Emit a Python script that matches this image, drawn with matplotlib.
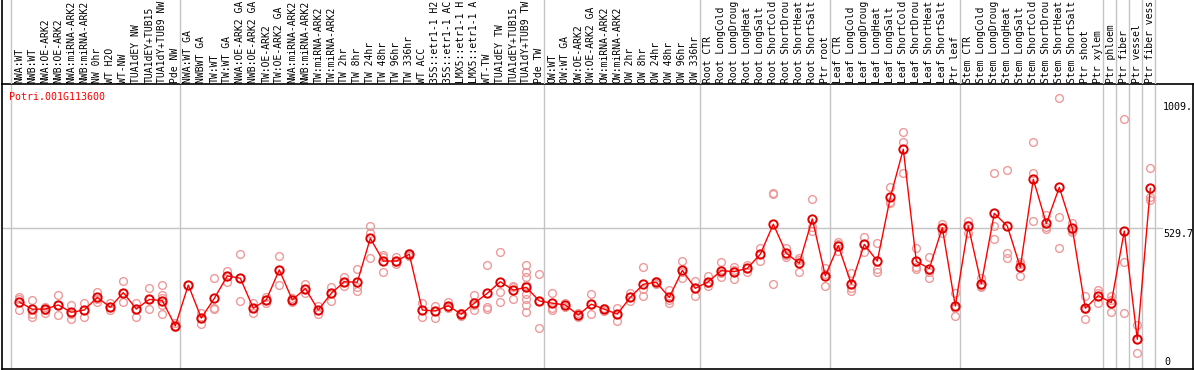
import matplotlib
matplotlib.use("Agg")
import matplotlib.pyplot as plt

title = "Potri.001G113600"

# labels as visible in the reference (long ones are cut at the top edge there)
categories = [
    "NWA:WT", "NWB:WT", "NWA:OE-ARK2", "NWB:OE-ARK2", "NWA:miRNA-ARK2", "NWB:miRNA-ARK2",
    "NW 0hr", "WT H2O", "WT-NW", "TUA1dEY NW", "TUA1dEY+TUB15", "TUA1dY+TUB9 NW", "Pde NW",
    "NWA:WT GA", "NWBWT GA", "TW:WT", "TW:WT GA", "NWA:OE-ARK2 GA", "NWB:OE-ARK2 GA",
    "TW:OE-ARK2", "TW:OE-ARK2 GA", "NWA:miRNA-ARK2", "NWB:miRNA-ARK2", "TW:miRNA-ARK2",
    "TW:miRNA-ARK2", "TW 2hr", "TW 8hr", "TW 24hr", "TW 48hr", "TW 96hr", "TW 336hr",
    "WT ACC", "35S::etr1-1 H2", "35S::etr1-1 AC", "LMX5::etr1-1 H", "LMX5::etr1-1 A",
    "WT-TW", "TUA1dEY TW", "TUA1dEY+TUB15", "TUA1dY+TUB9 TW", "Pde TW",
    "OW:WT", "OW:WT GA", "OW:OE-ARK2", "OW:OE-ARK2 GA", "OW:miRNA-ARK2", "OW:miRNA-ARK2",
    "OW 2hr", "OW 8hr", "OW 24hr", "OW 48hr", "OW 96hr", "OW 336hr",
    "Root CTR", "Root LongCold", "Root LongDroug", "Root LongHeat", "Root LongSalt",
    "Root ShortCold", "Root ShortDrou", "Root ShortHeat", "Root ShortSalt", "Ptr root",
    "Leaf CTR", "Leaf LongCold", "Leaf LongDroug", "Leaf LongHeat", "Leaf LongSalt",
    "Leaf ShortCold", "Leaf ShortDrou", "Leaf ShortHeat", "Leaf ShortSalt", "Ptr leaf",
    "Stem CTR", "Stem LongCold", "Stem LongDroug", "Stem LongHeat", "Stem LongSalt",
    "Stem ShortCold", "Stem ShortDrou", "Stem ShortHeat", "Stem ShortSalt",
    "Ptr shoot", "Ptr xylem", "Ptr phloem", "Ptr fiber", "Ptr vessel", "Ptr fiber vess",
]

means = [
    238, 209, 210, 226, 197, 206, 256, 217, 275, 210, 248, 243, 143,
    305, 174, 252, 341, 332, 213, 246, 365, 246, 291, 206, 272, 318, 316,
    490, 400, 400, 427, 206, 202, 223, 189, 233, 272, 318, 285, 296, 242,
    233, 226, 186, 229, 209, 190, 256, 308, 316, 256, 363, 292,
    318, 362, 358, 371, 427, 546, 431, 391, 567, 341,
    461, 309, 466, 400, 652, 843, 399, 370, 532, 222,
    539, 309, 589, 539, 375, 724, 549, 692, 530, 213,
    263, 235, 519, 90, 688,
]

replicates = [
    [256, 248, 206], [246, 190, 180], [219, 206, 196], [266, 226, 185], [226, 190, 169],
    [233, 206, 180], [279, 250, 239], [235, 217, 206], [322, 275, 239], [233, 209, 180],
    [292, 248, 209], [305, 266, 252, 226, 189], [153, 143, 137],
    [305], [196, 174, 149], [332, 213, 209], [361, 341, 318], [427, 332, 243],
    [233, 213, 196], [259, 246, 233], [420, 365, 305], [252, 246, 239],
    [309, 291, 275], [222, 206, 190], [296, 272, 243], [338, 318, 301],
    [367, 299, 283], [539, 512, 411], [424, 417, 358], [415, 398, 388],
    [431, 427, 421], [235, 206, 180], [222, 202, 174], [238, 219, 213],
    [196, 189, 182], [266, 226, 206], [384, 219, 209], [435, 279, 238],
    [301, 296, 248], [384, 358, 336, 305, 269, 248, 226, 197], [349, 242, 133],
    [272, 213, 206], [233, 226, 217], [193, 186, 180],
    [269, 229, 189], [213, 209, 203], [213, 190, 164], [272, 256, 243],
    [375, 288, 262], [322, 316, 309], [285, 246, 235], [399, 358, 332],
    [322, 292, 263], [341, 312, 303], [395, 354, 338], [378, 365, 330],
    [384, 371, 358], [450, 428, 400], [668, 664, 308], [450, 424, 417],
    [413, 404, 355], [645, 536, 519], [371, 347, 303],
    [477, 466, 440], [351, 292, 281], [497, 466, 437], [470, 369, 358],
    [692, 635, 631], [910, 870, 748], [450, 378, 369], [415, 358, 332],
    [545, 536, 512], [272, 213, 182],
    [559, 543, 510], [332, 301, 296], [748, 539, 486], [761, 433, 413],
    [395, 388, 341], [870, 748, 559], [582, 536, 526], [1045, 573, 450],
    [549, 523, 516], [262, 209, 169],
    [285, 272, 233], [262, 246, 197], [962, 395, 193], [147, 90, 34],
    [767, 655, 642],
]

group_ends = [-1, 12, 40, 52, 62, 72, 83, 84, 85, 86, 87]

ymid_label = "529.7"
ymid_value = 529.7
ytop_label = "1009."
ytop_value = 1009
ybottom_label = "0"

W, H = 1194, 370
fig = plt.figure(figsize=(W / 100, H / 100), dpi=100)
font = {"family": "DejaVu Sans Mono", "size": 7.2}
lab_font = {"family": "DejaVu Sans Mono", "size": 7.0}

ax_left_px, ax_right_px = 1.5, 1193.0
plot_top_px, plot_bot_px = 84.3, 369.3
ax = fig.add_axes([ax_left_px / W, 1 - plot_bot_px / H,
                   (ax_right_px - ax_left_px) / W, (plot_bot_px - plot_top_px) / H])
axl = fig.add_axes([ax_left_px / W, 1 - plot_top_px / H,
                    (ax_right_px - ax_left_px) / W, plot_top_px / H])

# x scale: index 0 at pixel 19.3, 13 px per category
x0_px, step_px = 19.3, 13.0
xl = -(x0_px - ax_left_px) / step_px
xr = xl + (ax_right_px - ax_left_px) / step_px
# y scale: value 0 at pixel 362, 0.2524 px per unit
y0_px, ppu = 362.0, 0.2524
yb = (y0_px - plot_bot_px) / ppu
yt = (y0_px - plot_top_px) / ppu

for a in (ax, axl):
    a.set_xlim(xl, xr)
    a.set_xticks([])
    a.set_yticks([])
    a.set_facecolor("none")
ax.set_ylim(yb, yt)
axl.set_ylim(0, 1)

for s in ax.spines.values():
    s.set_color("black")
    s.set_linewidth(1.2)
for k, s in axl.spines.items():
    s.set_visible(k == "left")
    s.set_color("black")
    s.set_linewidth(1.2)

grid_c = "#c4c4c4"
for g in group_ends:
    ax.axvline(g + 0.36, color=grid_c, lw=1.0, zorder=0)
    axl.axvline(g + 0.36, color=grid_c, lw=1.0, zorder=0)

# horizontal mid grid line up to the label column
xfrac_end = (1162 - ax_left_px) / (ax_right_px - ax_left_px)
ax.axhline(ymid_value, xmin=0, xmax=xfrac_end, color=grid_c, lw=1.0, zorder=0)

# replicate points
rx, ry = [], []
for i, reps in enumerate(replicates):
    for r in reps:
        rx.append(i)
        ry.append(r)
ax.plot(rx, ry, linestyle="none", marker="o", markersize=5.6, markerfacecolor="none",
        markeredgecolor="#ee9a9a", markeredgewidth=1.0, zorder=2)

# mean line
xs = list(range(len(means)))
ax.plot(xs, means, color="#ff0000", lw=1.0, zorder=3)
ax.plot(xs, means, linestyle="none", marker="o", markersize=6.0, markerfacecolor="none",
        markeredgecolor="#e00000", markeredgewidth=1.4, zorder=4)

# category labels
for i, c in enumerate(categories):
    axl.text(i, (plot_top_px - 82.8) / plot_top_px, c, rotation=90, ha="center", va="bottom",
             color="black", fontdict=lab_font, clip_on=False)

# title
fig.text(9.3 / W, 1 - 96.7 / H, title, color="#ff0000", ha="left", va="center", fontdict=font)

# y labels
fig.text(1163 / W, 1 - (y0_px - ytop_value * ppu) / H, ytop_label, ha="left", va="center",
         color="black", fontdict=font)
fig.text(1163 / W, 1 - (y0_px - ymid_value * ppu + 0.5) / H, ymid_label, ha="left", va="top",
         color="black", fontdict=font)
fig.text(1164 / W, 1 - y0_px / H, ybottom_label, ha="left", va="center",
         color="black", fontdict=font)

fig.savefig("out.png", dpi=100, facecolor="white")
